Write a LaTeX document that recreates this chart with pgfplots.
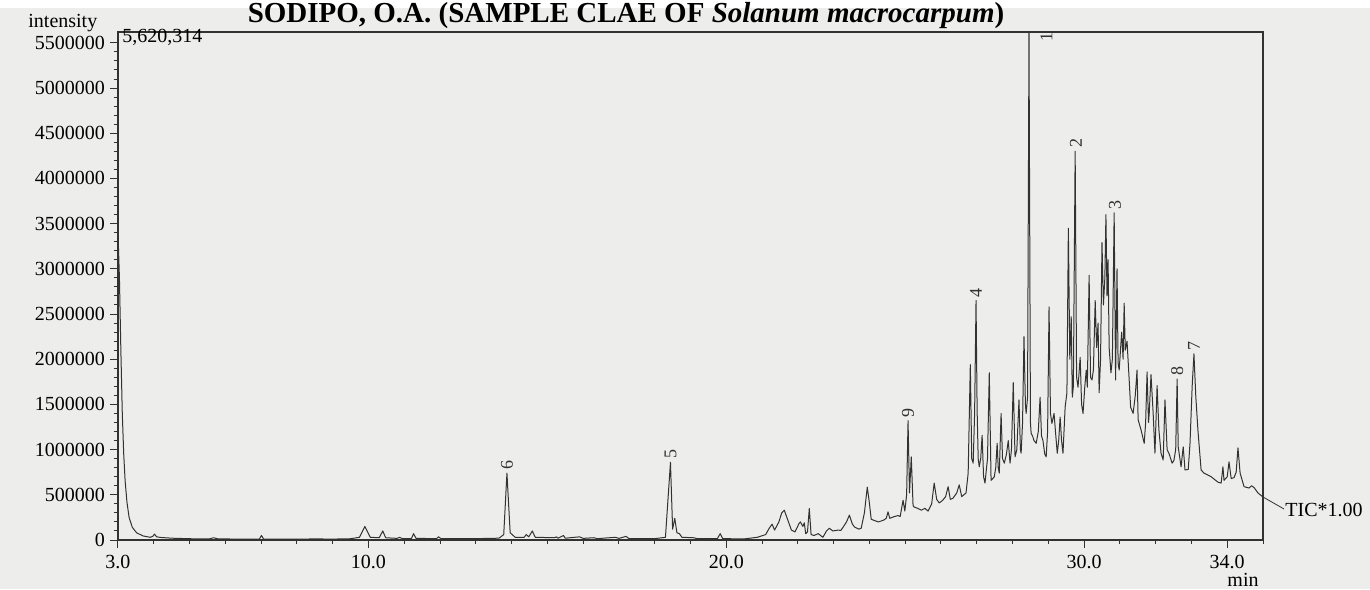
\documentclass[border=0pt]{standalone}
\usepackage{fontspec}
\setmainfont{Liberation Serif}
\usepackage{pgfplots}
\pgfplotsset{compat=1.18}
\usepackage{pgfplotstable}
\definecolor{paper}{RGB}{237,237,235}
\definecolor{ink}{RGB}{50,50,50}

\pgfplotstableread{
t I
3.00 3400000
3.04 2900000
3.08 2100000
3.12 1400000
3.16 950000
3.20 650000
3.25 420000
3.31 250000
3.40 140000
3.52 80000
3.70 45000
3.90 30000
3.97 40000
4.02 65000
4.08 35000
4.20 28000
4.50 20000
5.00 14000
5.55 12000
5.67 25000
5.80 12000
6.50 10000
6.95 10000
7.01 50000
7.07 10000
8.00 9000
8.50 12000
9.00 10000
9.50 14000
9.75 30000
9.90 150000
10.05 30000
10.30 25000
10.40 100000
10.48 25000
10.80 18000
10.87 30000
10.95 15000
11.20 15000
11.26 70000
11.33 18000
11.90 15000
11.96 35000
12.03 14000
13.00 15000
13.65 20000
13.78 60000
13.87 740000
13.96 80000
14.10 30000
14.35 30000
14.41 60000
14.48 35000
14.58 100000
14.66 30000
15.20 25000
15.25 35000
15.30 20000
15.45 50000
15.50 20000
15.90 35000
16.00 18000
16.30 25000
16.40 15000
16.90 30000
17.00 18000
17.20 40000
17.28 15000
18.00 15000
18.30 30000
18.44 860000
18.50 120000
18.56 240000
18.62 80000
18.69 70000
18.76 30000
19.08 25000
19.20 15000
19.75 15000
19.83 70000
19.90 15000
20.50 12000
20.87 30000
21.10 60000
21.20 130000
21.28 175000
21.35 110000
21.47 200000
21.55 300000
21.62 330000
21.72 220000
21.82 110000
21.92 90000
22.03 180000
22.07 200000
22.14 150000
22.18 190000
22.22 70000
22.27 90000
22.32 350000
22.37 60000
22.45 50000
22.57 70000
22.70 30000
22.80 100000
22.88 130000
22.98 100000
23.13 110000
23.20 105000
23.27 145000
23.36 200000
23.44 275000
23.52 180000
23.58 145000
23.70 120000
23.77 130000
23.86 300000
23.94 585000
23.99 440000
24.05 230000
24.11 220000
24.25 200000
24.40 220000
24.47 240000
24.52 310000
24.57 240000
24.70 260000
24.80 270000
24.86 260000
24.94 440000
24.99 320000
25.04 500000
25.08 1320000
25.12 520000
25.17 920000
25.22 380000
25.25 365000
25.35 350000
25.45 330000
25.55 350000
25.64 320000
25.74 400000
25.81 630000
25.88 450000
25.95 410000
26.05 440000
26.13 480000
26.20 590000
26.26 450000
26.33 460000
26.44 520000
26.51 610000
26.58 480000
26.70 520000
26.76 740000
26.82 1940000
26.86 900000
26.90 850000
26.94 1400000
26.98 2650000
27.01 1440000
27.04 900000
27.07 810000
27.11 900000
27.15 1160000
27.19 700000
27.23 630000
27.30 900000
27.35 1850000
27.40 660000
27.45 680000
27.49 700000
27.53 800000
27.57 1070000
27.60 800000
27.63 740000
27.68 1400000
27.72 900000
27.77 850000
27.83 950000
27.88 1100000
27.93 850000
27.97 1000000
28.02 1740000
28.07 920000
28.12 1000000
28.18 1550000
28.22 1000000
28.24 960000
28.28 1300000
28.32 2250000
28.36 1500000
28.38 1400000
28.42 1580000
28.46 5620314
28.50 1300000
28.52 1180000
28.56 1150000
28.60 1100000
28.66 1070000
28.72 1200000
28.77 1580000
28.81 1150000
28.85 1100000
28.90 950000
28.94 920000
28.98 1200000
29.02 2580000
29.06 1400000
29.10 1290000
29.16 1400000
29.21 1150000
29.25 960000
29.29 1100000
29.33 1360000
29.37 1100000
29.41 960000
29.47 1470000
29.52 1630000
29.56 3450000
29.60 2000000
29.64 2470000
29.67 1580000
29.70 1700000
29.75 4300000
29.79 1800000
29.83 1690000
29.89 2020000
29.93 1500000
29.97 1400000
30.02 1700000
30.06 1880000
30.09 1690000
30.14 2930000
30.18 1800000
30.22 1770000
30.26 1880000
30.31 2650000
30.35 2130000
30.39 2400000
30.42 1630000
30.46 2000000
30.50 3290000
30.54 2600000
30.58 2900000
30.61 3600000
30.64 2700000
30.67 3100000
30.70 2130000
30.75 1850000
30.79 2000000
30.84 3620000
30.88 1770000
30.92 3000000
30.95 1960000
30.98 1880000
31.05 2300000
31.09 2000000
31.12 2620000
31.15 2100000
31.20 2200000
31.26 1770000
31.30 1470000
31.37 1400000
31.43 1600000
31.48 1880000
31.51 1330000
31.59 1220000
31.68 1070000
31.72 1300000
31.76 1860000
31.80 1300000
31.82 1400000
31.87 1830000
31.93 1400000
31.98 960000
32.04 1710000
32.09 1220000
32.15 960000
32.21 885000
32.26 1550000
32.32 1000000
32.37 960000
32.46 850000
32.51 880000
32.56 1000000
32.60 1780000
32.63 1030000
32.71 810000
32.77 1030000
32.82 775000
32.91 780000
32.96 1070000
33.02 1700000
33.07 2060000
33.12 1600000
33.18 1220000
33.27 775000
33.35 740000
33.55 700000
33.74 640000
33.83 630000
33.88 810000
33.91 660000
34.00 700000
34.05 865000
34.11 680000
34.19 690000
34.25 750000
34.30 1020000
34.36 740000
34.47 590000
34.61 575000
34.68 600000
34.75 580000
34.86 520000
35.00 475000
}\tic

\begin{document}
\begin{tikzpicture}
\fill[paper] (-59pt,-24.5pt) rectangle (626pt,266pt);
\node[anchor=base, font=\bfseries\fontsize{14.5}{16}\selectfont] at (254pt,258.8pt)
  {SODIPO, O.A. (SAMPLE CLAE OF \textit{Solanum macrocarpum})};
\begin{axis}[
  at={(0pt,0pt)}, anchor=south west, scale only axis,
  width=572.5pt, height=254pt,
  xmin=3, xmax=35, ymin=0, ymax=5620314,
  clip mode=individual,
  axis line style={ink, line width=0.6pt},
  tick style={ink, line width=0.5pt},
  tick align=outside, tick pos=left,
  major tick length=4pt, minor tick length=2pt,
  xtick={3,10,20,30,34},
  xticklabels={3.0,10.0,20.0,30.0,34.0},
  minor xtick={4,5,6,7,8,9,11,12,13,14,15,16,17,18,19,21,22,23,24,25,26,27,28,29,31,32,33,35},
  ytick={0,500000,1000000,1500000,2000000,2500000,3000000,3500000,4000000,4500000,5000000,5500000},
  yticklabels={0,500000,1000000,1500000,2000000,2500000,3000000,3500000,4000000,4500000,5000000,5500000},
  minor y tick num=4,
  scaled y ticks=false, scaled x ticks=false,
  /pgf/number format/assume math mode=true,
  ticklabel style={font=\fontsize{10}{12}\selectfont, text=black},
  yticklabel style={xshift=1pt},
]
\addplot[ink, line width=0.5pt, line join=round] table[x=t,y=I]{\tic};
\tikzset{pk/.style={rotate=90, anchor=west, inner sep=1.5pt, font=\fontsize{9}{10}\selectfont, text=ink}}
\node[pk] at (axis cs:13.87,740000) {6};
\node[pk] at (axis cs:18.44,860000) {5};
\node[pk] at (axis cs:25.08,1320000) {9};
\node[pk] at (axis cs:26.98,2650000) {4};
\node[pk] at (axis cs:29.77,4300000) {2};
\node[pk] at (axis cs:30.86,3620000) {3};
\node[pk] at (axis cs:32.60,1780000) {8};
\node[pk] at (axis cs:33.07,2060000) {7};
\node[rotate=90, anchor=center, inner sep=1pt, font=\fontsize{9}{10}\selectfont, text=ink] at (axis cs:28.95,5560000) {1};
\end{axis}
\node[anchor=west, inner sep=0pt, font=\fontsize{10}{12}\selectfont] at (-45pt,258.5pt) {intensity};
\node[anchor=west, inner sep=0pt, font=\fontsize{10}{12}\selectfont] at (2pt,251.5pt) {5,620,314};
\draw[ink, line width=0.4pt] (572.5pt,21.5pt) -- (583pt,15.5pt);
\node[anchor=west, inner sep=0pt, font=\fontsize{10}{12}\selectfont] at (583.5pt,15pt) {TIC*1.00};
\node[inner sep=0pt, font=\fontsize{10}{12}\selectfont] at (562.5pt,-20pt) {min};
\pgfresetboundingbox
\useasboundingbox (-59pt,-24.5pt) rectangle (626pt,270pt);
\end{tikzpicture}
\end{document}
